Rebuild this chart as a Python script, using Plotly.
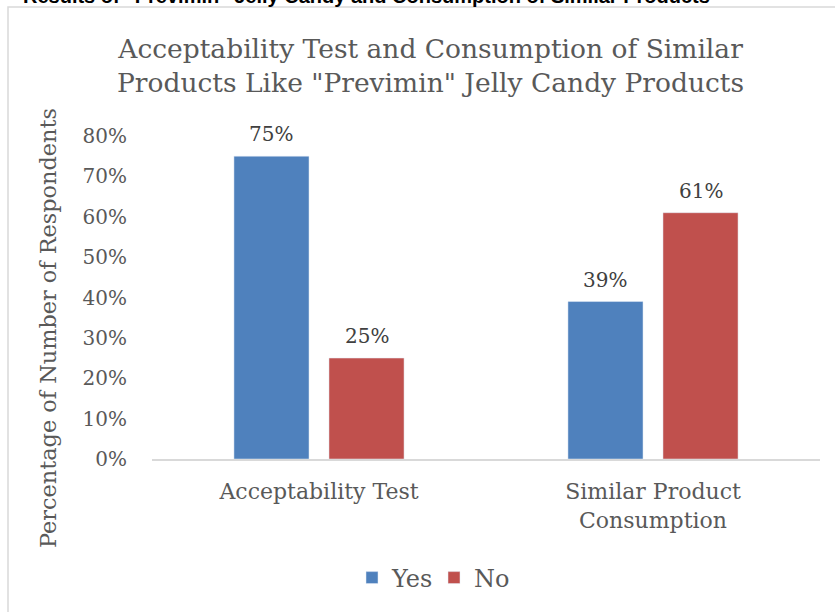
import plotly.graph_objects as go

categories = ["Acceptability Test", "Similar Product<br>Consumption"]
series_names = ["Yes", "No"]
yes_values = [0.75, 0.39]
no_values = [0.25, 0.61]
yes_labels = ["75%", "39%"]
no_labels = ["25%", "61%"]
y_ticks = [0, 0.1, 0.2, 0.3, 0.4, 0.5, 0.6, 0.7, 0.8]

W, H = 835, 612
L, R, T, B = 152, 15, 136, 153
pw, ph = W - L - R, H - T - B

def px(x):
    return (x - L) / pw

def py(y):
    return (H - B - y) / ph

FONT = "DejaVu Serif"
TXT = "#595959"
COLORS = ["#4f81bd", "#c0504d"]

fig = go.Figure()
for name, vals, col in zip(series_names, [yes_values, no_values], COLORS):
    fig.add_trace(go.Bar(name=name, x=categories, y=vals, marker_color=col))

# data labels placed above each bar (slot offset = half of the in-group slot width)
slot = 0.5 * (1 - 0.431) * pw / len(categories)
for i, (vals, labs) in enumerate([(yes_values, yes_labels), (no_values, no_labels)]):
    shift = (i - 0.5) * slot
    for c, v, t in zip(categories, vals, labs):
        fig.add_annotation(x=c, y=v, text=t, xref="x", yref="y", xshift=shift, yshift=8,
                           yanchor="bottom", xanchor="center", showarrow=False,
                           font=dict(family=FONT, size=20, color="#404040"))

fig.update_layout(
    width=W, height=H,
    margin=dict(l=L, r=R, t=T, b=B),
    paper_bgcolor="white", plot_bgcolor="white",
    barmode="group", bargap=0.431, bargroupgap=0.21,
    font=dict(family=FONT, color=TXT, size=20),
    showlegend=True,
    legend=dict(orientation="h", x=px(434), y=py(578), xanchor="center", yanchor="middle",
                font=dict(size=24, color=TXT), itemwidth=30, entrywidth=37),
    xaxis=dict(showline=True, linecolor="#d9d9d9", linewidth=1.5, ticks="",
               ticklabelstandoff=12, tickfont=dict(size=22, color=TXT)),
    yaxis=dict(range=[0, 0.8], tickvals=y_ticks, tickformat=".0%", showgrid=False,
               zeroline=False, showline=False, ticks="", ticklabelstandoff=24,
               tickfont=dict(size=20, color=TXT)),
)

fig.add_annotation(text="Acceptability Test and Consumption of Similar<br>Products Like \"Previmin\" Jelly Candy Products",
                   xref="paper", yref="paper", x=px(430), y=py(66), xanchor="center", yanchor="middle",
                   showarrow=False, font=dict(size=26.5, color=TXT, family=FONT))
fig.add_annotation(text="Percentage of Number of Respondents", textangle=-90,
                   xref="paper", yref="paper", x=px(48), y=py(328), xanchor="center", yanchor="middle",
                   showarrow=False, font=dict(size=22.4, color=TXT, family=FONT))
fig.add_annotation(text="<b>Results of \"Previmin\" Jelly Candy and Consumption of Similar Products</b>",
                   xref="paper", yref="paper", x=px(712), y=py(-4), xanchor="right", yanchor="middle",
                   showarrow=False, font=dict(size=20, color="#000000", family="Liberation Sans"))
fig.add_shape(type="rect", xref="paper", yref="paper", x0=px(8), y0=py(700), x1=px(900), y1=py(7),
              line=dict(color="#d9d9d9", width=1.5), fillcolor="rgba(0,0,0,0)", layer="below")

fig.write_html("out.html")
